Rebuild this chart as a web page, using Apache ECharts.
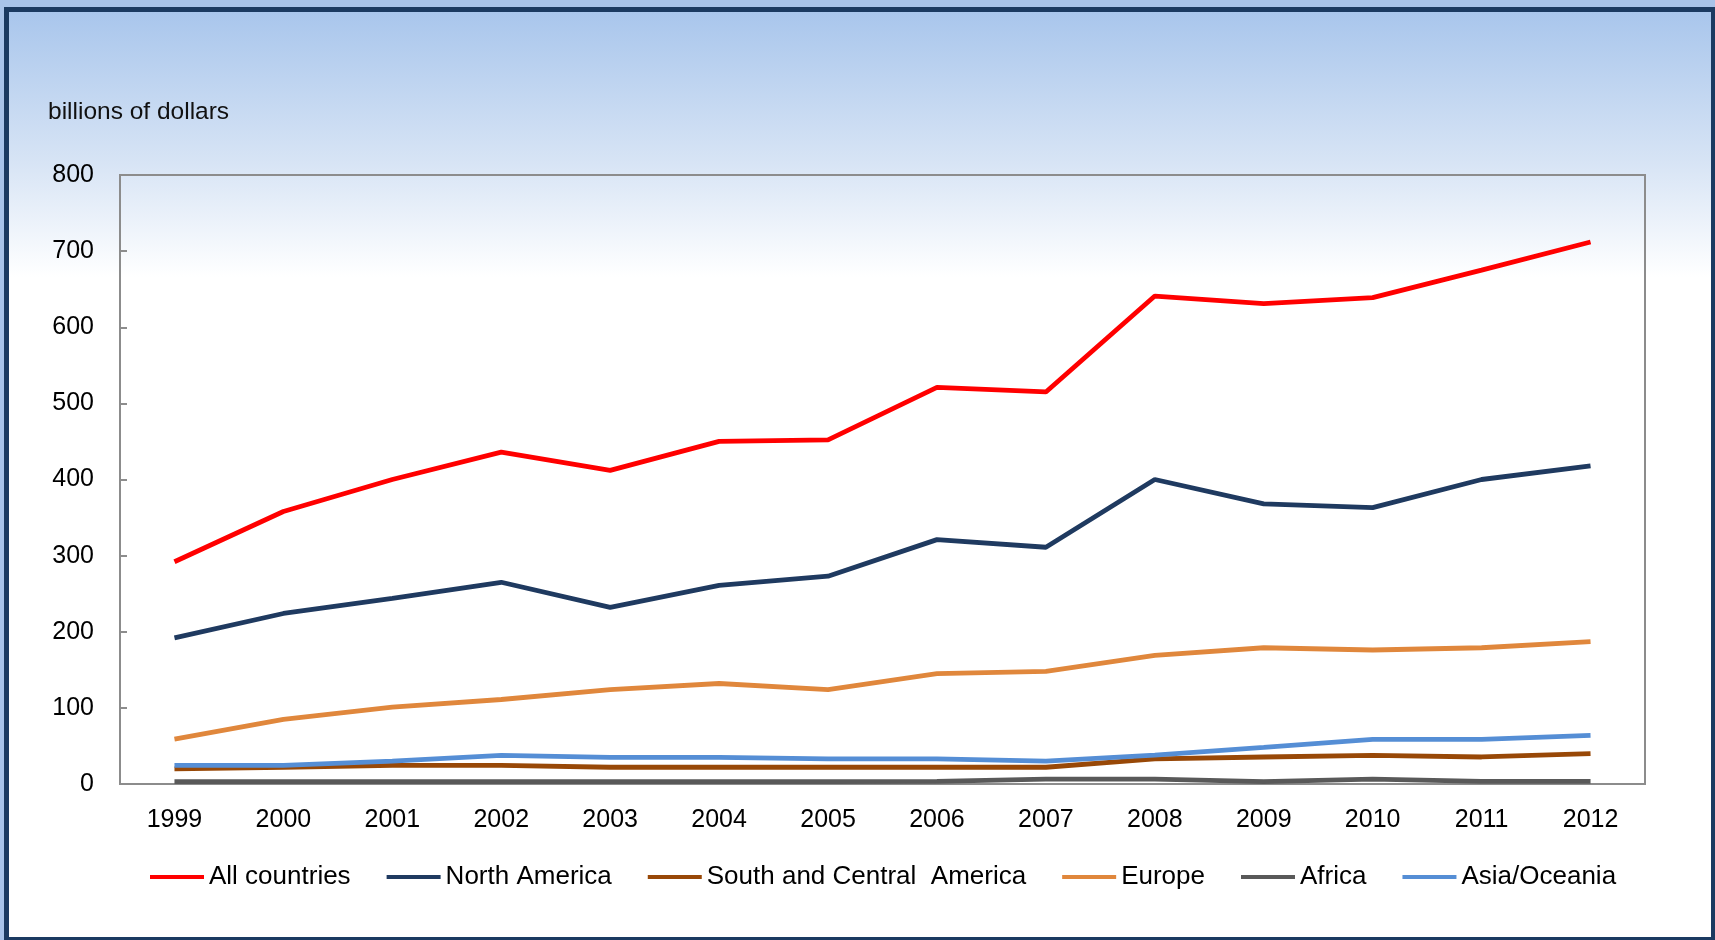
<!DOCTYPE html>
<html>
<head>
<meta charset="utf-8">
<script src="https://cdn.jsdelivr.net/npm/echarts@6/dist/echarts.min.js"></script>
<style>
  html, body { margin: 0; padding: 0; width: 1715px; height: 940px; overflow: hidden; background: #a8c3e9; }
  #frame { position: absolute; left: 4px; top: 7px; width: 1712px; height: 935px; box-sizing: border-box;
           border: 5px solid #1b3a61; background: linear-gradient(to bottom, #a9c6ec 0px, #d7e4f5 150px, #ffffff 265px, #ffffff 100%); }
  #chart { position: absolute; left: 0; top: 0; width: 1715px; height: 940px; }
</style>
</head>
<body>
<div id="frame"></div>
<div id="chart"></div>
<script>
const years = ['1999','2000','2001','2002','2003','2004','2005','2006','2007','2008','2009','2010','2011','2012'];
const allCountries = [292, 358, 400, 436, 412, 450, 452, 521, 515, 641, 631, 639, 675, 712];
const northAmerica = [192, 224, 244, 265, 232, 261, 273, 321, 311, 400, 368, 363, 400, 418];
const southCentralAmerica = [20, 22, 24.5, 24.5, 22, 22, 22, 22, 22, 33, 35.5, 37.5, 35.5, 40];
const europe = [59, 85, 101, 111, 124, 132, 124, 145, 148, 169, 179, 176, 179, 187];
const africa = [3, 3, 3, 3, 3, 3, 3, 3.5, 6.5, 6.5, 3, 6.5, 3.5, 3.5];
const asiaOceania = [24.5, 24.5, 30, 37.5, 35, 35, 33, 33, 30, 38, 48, 58.5, 58.5, 64];
const yTicks = { min: 0, max: 800, interval: 100 };
const unitLabel = 'billions of dollars';

const font = "'Liberation Sans', Arial, sans-serif";
const chart = echarts.init(document.getElementById('chart'), null, { renderer: 'canvas' });

function mk(name, data, color) {
  return { name, type: 'line', data, showSymbol: false, symbol: 'none',
           lineStyle: { color, width: 4.8 }, itemStyle: { color }, animation: false };
}

chart.setOption({
  backgroundColor: 'transparent',
  animation: false,
  title: { text: unitLabel, left: 48, top: 100, padding: 0,
           textStyle: { fontFamily: font, fontSize: 24.5, fontWeight: 'normal', color: '#111' } },
  grid: { left: 120, right: 70, top: 175, bottom: 156, show: true,
          borderColor: '#8c8c8c', borderWidth: 2, backgroundColor: 'transparent' },
  legend: {
    left: 150, top: 864, padding: 0, icon: 'rect', itemWidth: 54, itemHeight: 4, itemGap: 36,
    textStyle: { fontFamily: font, fontSize: 26, color: '#000' },
    data: ['All countries', 'North America', 'South and Central  America', 'Europe', 'Africa', 'Asia/Oceania']
  },
  xAxis: {
    type: 'category', data: years, boundaryGap: true,
    axisLine: { lineStyle: { color: '#8c8c8c', width: 2 } },
    axisTick: { inside: true, length: 8, lineStyle: { color: '#8c8c8c', width: 2 } },
    axisLabel: { fontFamily: font, fontSize: 25, color: '#000', margin: 24 },
    splitLine: { show: false }
  },
  yAxis: {
    type: 'value', min: yTicks.min, max: yTicks.max, interval: yTicks.interval,
    axisLine: { show: true, lineStyle: { color: '#8c8c8c', width: 2 } },
    axisTick: { show: true, inside: true, length: 7, lineStyle: { color: '#8c8c8c', width: 2 } },
    axisLabel: { fontFamily: font, fontSize: 25, color: '#000', margin: 26 },
    splitLine: { show: false }
  },
  series: [
    mk('Africa', africa, '#595959'),
    mk('South and Central  America', southCentralAmerica, '#984807'),
    mk('Asia/Oceania', asiaOceania, '#558ed5'),
    mk('Europe', europe, '#e0873c'),
    mk('North America', northAmerica, '#1f3a60'),
    mk('All countries', allCountries, '#ff0000')
  ]
});
</script>
</body>
</html>
